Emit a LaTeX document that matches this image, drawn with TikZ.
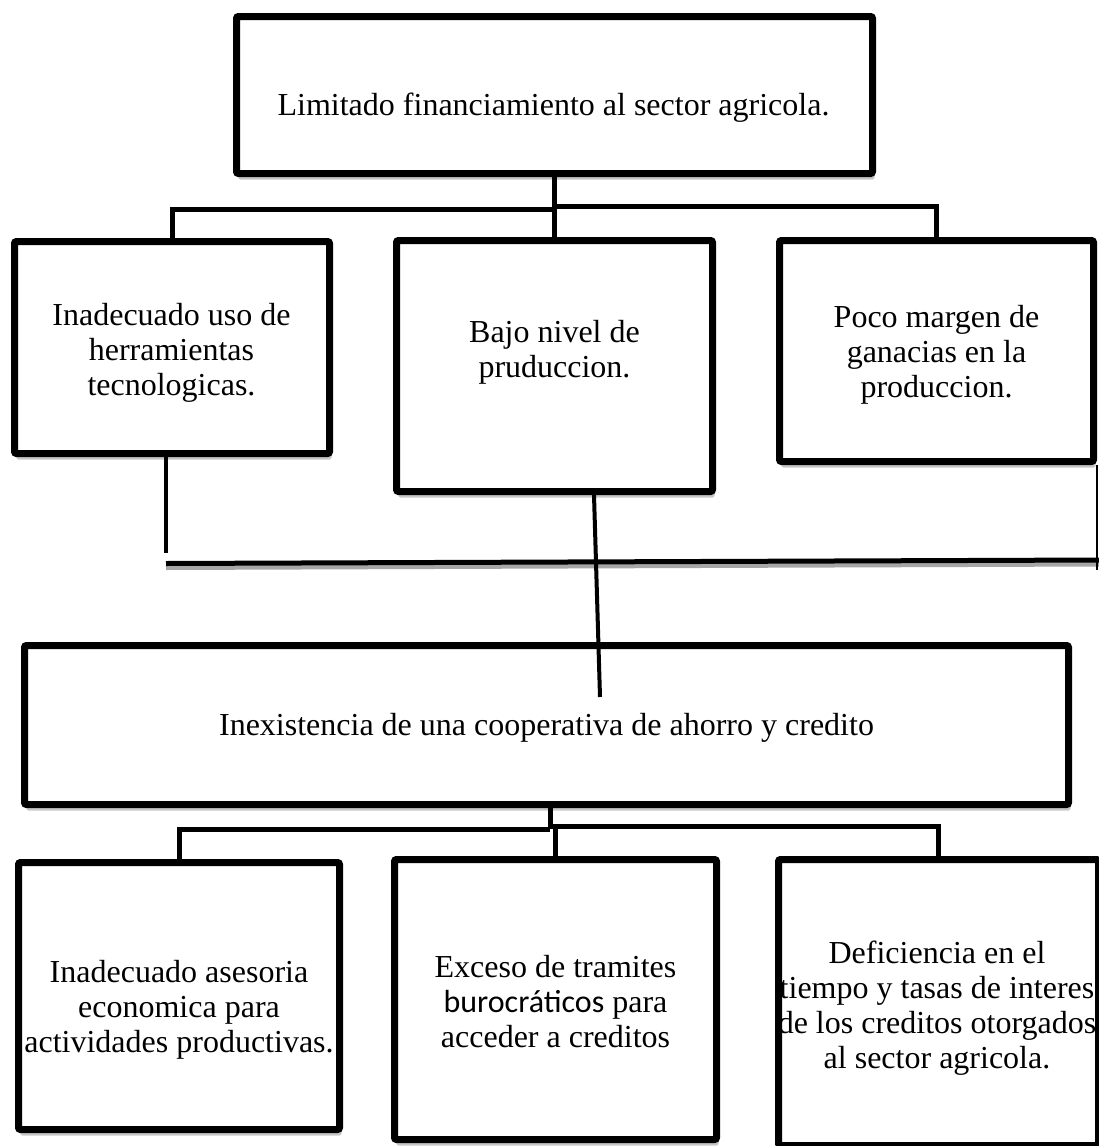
\documentclass[tikz,border=0pt]{standalone}
\usepackage{fontspec}
\setmainfont{Liberation Serif}
\newfontfamily\calfont{Carlito}
\usetikzlibrary{shadows}
\newcommand\mylines[1]{\begin{tabular}[t]{@{}c@{}}#1\end{tabular}}
\begin{document}
\begin{tikzpicture}[x=1pt,y=-1pt,
  box/.style={draw, line width=7pt, fill=white, rounded corners=2pt, inner sep=0pt,
    drop shadow={shadow xshift=2pt, shadow yshift=-6pt, fill=black, opacity=0.22}},
  conn/.style={line width=5pt},
  txt/.style={inner sep=0pt, anchor=base, font=\fontsize{32}{35}\selectfont}]
\useasboundingbox[fill=white] (0,0) rectangle (1099,1146);
% boxes
\node[box, minimum width=636pt, minimum height=157pt] (top) at (554.5,95) {};
\node[box, minimum width=315pt, minimum height=212pt] (b1) at (172,347.5) {};
\node[box, minimum width=316pt, minimum height=251pt] (b2) at (554.5,366) {};
\node[box, minimum width=314pt, minimum height=221pt] (b3) at (936.5,351) {};
\node[box, minimum width=1044pt, minimum height=159pt] (mid) at (546.5,725) {};
\node[box, minimum width=321pt, minimum height=267pt] (c1) at (179,996) {};
\node[box, minimum width=322pt, minimum height=280pt] (c2) at (555.5,999.5) {};
\node[box, minimum width=320pt, minimum height=286pt] (c3) at (938.5,1002.5) {};
% upper connectors
\coordinate (j1) at (554.5,209.5);
\coordinate (j2) at (554.5,206.5);
\draw[conn] (top.south) -- (b2.north);
\draw[conn] (j1) -| (b1.north);
\draw[conn] (j2) -| (b3.north);
% middle connectors
\coordinate (l1) at (166,553);
\draw[line width=4pt] (b1.south -| l1) -- (l1);
\coordinate (h1) at (166,563.5);
\coordinate (h2) at (1099,560);
\draw[line width=5pt, black!35] ([yshift=-4pt]h1) -- ([yshift=-4pt]h2);
\draw[line width=5pt] (h1) -- (h2);
\coordinate (r1) at (1097,570);
\draw[line width=2.5pt] (b3.south -| r1) -- (r1);
\coordinate (s0) at (594,0);
\coordinate (s1) at (600,697);
\draw[line width=4pt] (b2.south -| s0) -- (s1);
% lower connectors
\coordinate (k0) at (550,827);
\coordinate (k1) at (550,829.5);
\coordinate (k2) at (550,826);
\draw[conn] (mid.south -| k0) -- (k0);
\draw[conn] (k1) -| (c1.north);
\draw[conn] (k2) -| (c3.north);
\draw[conn] (k2 -| c2.north) -- (c2.north);
% texts
\node[txt] (ttop) at (553.5,115) {Limitado financiamiento al sector agricola.};
\node[txt] (tb1) at (171.5,325) {\mylines{Inadecuado uso de\\herramientas\\tecnologicas.}};
\node[txt] (tb2) at (554.5,342) {\mylines{Bajo nivel de\\pruduccion.}};
\node[txt] (tb3) at (936.5,327) {\mylines{Poco margen de\\ganacias en la\\produccion.}};
\node[txt] (tmid) at (546.5,735) {Inexistencia de una cooperativa de ahorro y credito};
\node[txt] (tc1) at (179,982) {\mylines{Inadecuado asesoria\\economica para\\actividades productivas.}};
\node[txt] (tc2) at (555.5,977) {\mylines{Exceso de tramites\\{\calfont burocráticos} para\\acceder a creditos}};
\node[txt] (tc3) at (937,963) {\mylines{Deficiencia en el\\tiempo y tasas de interes\\de los creditos otorgados\\al sector agricola.}};
\end{tikzpicture}
\end{document}
